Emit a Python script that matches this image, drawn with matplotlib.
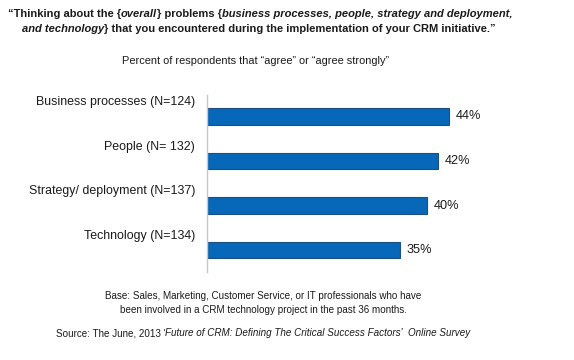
import matplotlib
matplotlib.use('Agg')
import matplotlib.pyplot as plt

plt.rcParams['font.family'] = ['Liberation Sans', 'DejaVu Sans']

categories = ['Business processes (N=124)', 'People (N= 132)',
              'Strategy/ deployment (N=137)', 'Technology (N=134)']
values = [44, 42, 40, 35]
value_labels = ['44%', '42%', '40%', '35%']

BAR_COLOR = '#0767b8'
EDGE_COLOR = '#1d4f80'
W, H = 574, 360
DPI = 100


def rich_line(fig, renderer, x_center, y, pieces, size, color='#1a1a1a'):
    # draw text pieces with different styles next to each other, centered on x_center (pixels)
    texts = []
    for txt, weight, style in pieces:
        t = fig.text(0, y / H, txt, fontsize=size, fontweight=weight, fontstyle=style,
                     color=color, va='center', ha='left')
        texts.append(t)
    widths = [t.get_window_extent(renderer).width for t in texts]
    x = x_center - sum(widths) / 2
    for t, w in zip(texts, widths):
        t.set_x(x / W)
        x += w


fig = plt.figure(figsize=(W / DPI, H / DPI), dpi=DPI)
renderer = fig.canvas.get_renderer()

ax_left, ax_top, ax_bottom = 207, 95, 272
px_per_pct = 5.5
ax = fig.add_axes([ax_left / W, (H - ax_bottom) / H, 330 / W, (ax_bottom - ax_top) / H])
ax.set_xlim(0, 330 / px_per_pct)
ax.set_ylim(3.494, -0.483)

ypos = list(range(len(categories)))
ax.barh(ypos, values, height=0.38, color=BAR_COLOR, edgecolor=EDGE_COLOR, linewidth=0.8)

for y, v, lab, cat in zip(ypos, values, value_labels, categories):
    ax.annotate(lab, xy=(v, y), xytext=(7, 0), textcoords='offset pixels',
                ha='left', va='center', fontsize=9.2, color='#1a1a1a')
    ax.annotate(cat, xy=(0, y), xytext=(-12, 14.5), textcoords='offset pixels',
                ha='right', va='center', fontsize=8.9, color='#1a1a1a',
                annotation_clip=False)

for s in ['top', 'right', 'bottom']:
    ax.spines[s].set_visible(False)
ax.spines['left'].set_color('#c8c8c8')
ax.spines['left'].set_linewidth(1)
ax.set_xticks([])
ax.set_yticks([])

# titles
rich_line(fig, renderer, 260, H - 14, [
    ('\u201cThinking about the {', 'bold', 'normal'),
    ('overall', 'bold', 'italic'),
    ('} problems {', 'bold', 'normal'),
    ('business processes, people, strategy and deployment,', 'bold', 'italic'),
], 8.05)
rich_line(fig, renderer, 259, H - 29, [
    ('and technology', 'bold', 'italic'),
    ('} that you encountered during the implementation of your CRM initiative.\u201d', 'bold', 'normal'),
], 8.05)

fig.text(255 / W, (H - 61) / H, 'Percent of respondents that \u201cagree\u201d or \u201cagree strongly\u201d',
         fontsize=7.9, ha='center', va='center', color='#1a1a1a')

fig.text(263 / W, (H - 296) / H, 'Base: Sales, Marketing, Customer Service, or IT professionals who have',
         fontsize=7.1, ha='center', va='center', color='#1a1a1a')
fig.text(263 / W, (H - 310) / H, 'been involved in a CRM technology project in the past 36 months.',
         fontsize=7.1, ha='center', va='center', color='#1a1a1a')

rich_line(fig, renderer, 263, H - 333, [
    ("Source: The June, 2013 '", 'normal', 'normal'),
    ("Future of CRM: Defining The Critical Success Factors'  Online Survey", 'normal', 'italic'),
], 7.1)

fig.savefig('out.png', dpi=DPI, facecolor='white')
